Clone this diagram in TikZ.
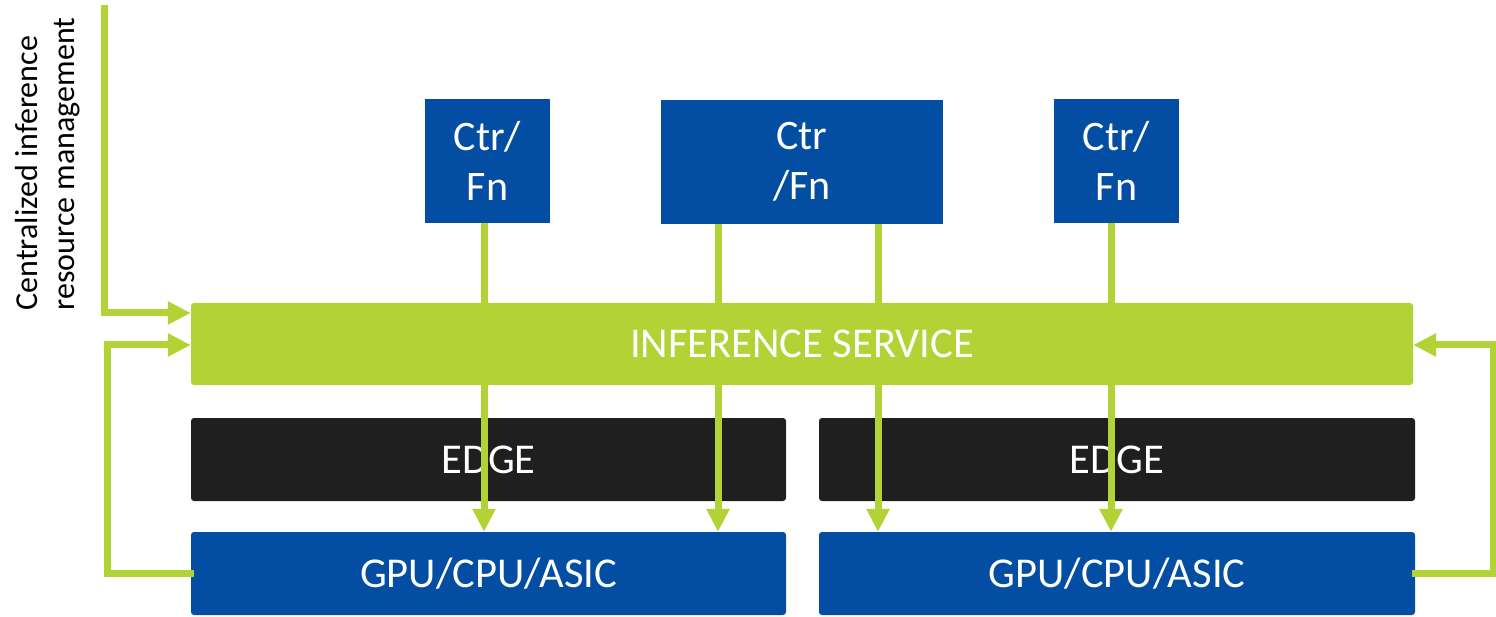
\documentclass[tikz,border=0pt]{standalone}
\usepackage{fontspec}
\setmainfont{Carlito}
\usetikzlibrary{arrows.meta}
\definecolor{igreen}{HTML}{B2D235}
\definecolor{iblue}{HTML}{034EA2}
\definecolor{iblack}{HTML}{1F1F1F}
\tikzset{
  box/.style={inner sep=0pt, text=white, align=center},
  ctrbox/.style={box, fill=iblue, minimum width=125pt, minimum height=124pt, font=\fontsize{42}{50}\selectfont},
  widebox/.style={box, rounded corners=3pt, minimum height=83pt, font=\fontsize{42.5}{50}\selectfont},
  gline/.style={draw=igreen, line width=7pt},
  garrow/.style={gline, -{Triangle[length=23pt,width=22pt]}}
}
\begin{document}
\begin{tikzpicture}[x=1pt,y=-1pt]
\useasboundingbox (0,0) rectangle (1496,617);
% top boxes
\node[ctrbox] (ctr1) at (487.5,161) {Ctr/\\Fn};
\node[ctrbox, minimum width=282pt] (ctr2) at (802,162) {Ctr\\/Fn};
\node[ctrbox] (ctr3) at (1116.5,161) {Ctr/\\Fn};
% edge and gpu
\node[widebox, fill=iblack, minimum width=595pt] (edge1) at (488.5,459.5) {EDGE};
\node[widebox, fill=iblack, minimum width=596pt] (edge2) at (1117,459.5) {EDGE};
\node[widebox, fill=iblue, minimum width=595pt] (gpu1) at (488.5,573.5) {GPU/CPU/ASIC};
\node[widebox, fill=iblue, minimum width=596pt] (gpu2) at (1117,573.5) {GPU/CPU/ASIC};
% vertical connectors
\draw[garrow] (484,0 |- ctr1.south) -- (484,0 |- gpu1.north);
\draw[garrow] (718,0 |- ctr2.south) -- (718,0 |- gpu1.north);
\draw[garrow] (878,0 |- ctr2.south) -- (878,0 |- gpu2.north);
\draw[garrow] (1111,0 |- ctr3.south) -- (1111,0 |- gpu2.north);
% inference service
\node[widebox, fill=igreen, minimum width=1222pt, minimum height=82pt] (serv) at (802,344) {INFERENCE SERVICE};
% side connectors
\coordinate (topin) at (104,5);
\draw[garrow] (topin) -- (104,313) -- (serv.west |- 0,313);
\draw[garrow] ([xshift=3pt]gpu1.west) -- (107,0 |- gpu1.west) -- (107,345) -- (serv.west |- 0,345);
\draw[garrow] ([xshift=-3pt]gpu2.east) -- (1493,0 |- gpu2.east) -- (1493,345) -- (serv.east |- 0,345);
% label
\node[rotate=90, align=left, inner sep=0pt, font=\fontsize{32}{37}\selectfont, text=black] (lab) at (48,164) {Centralized inference\\resource management};
\end{tikzpicture}
\end{document}
